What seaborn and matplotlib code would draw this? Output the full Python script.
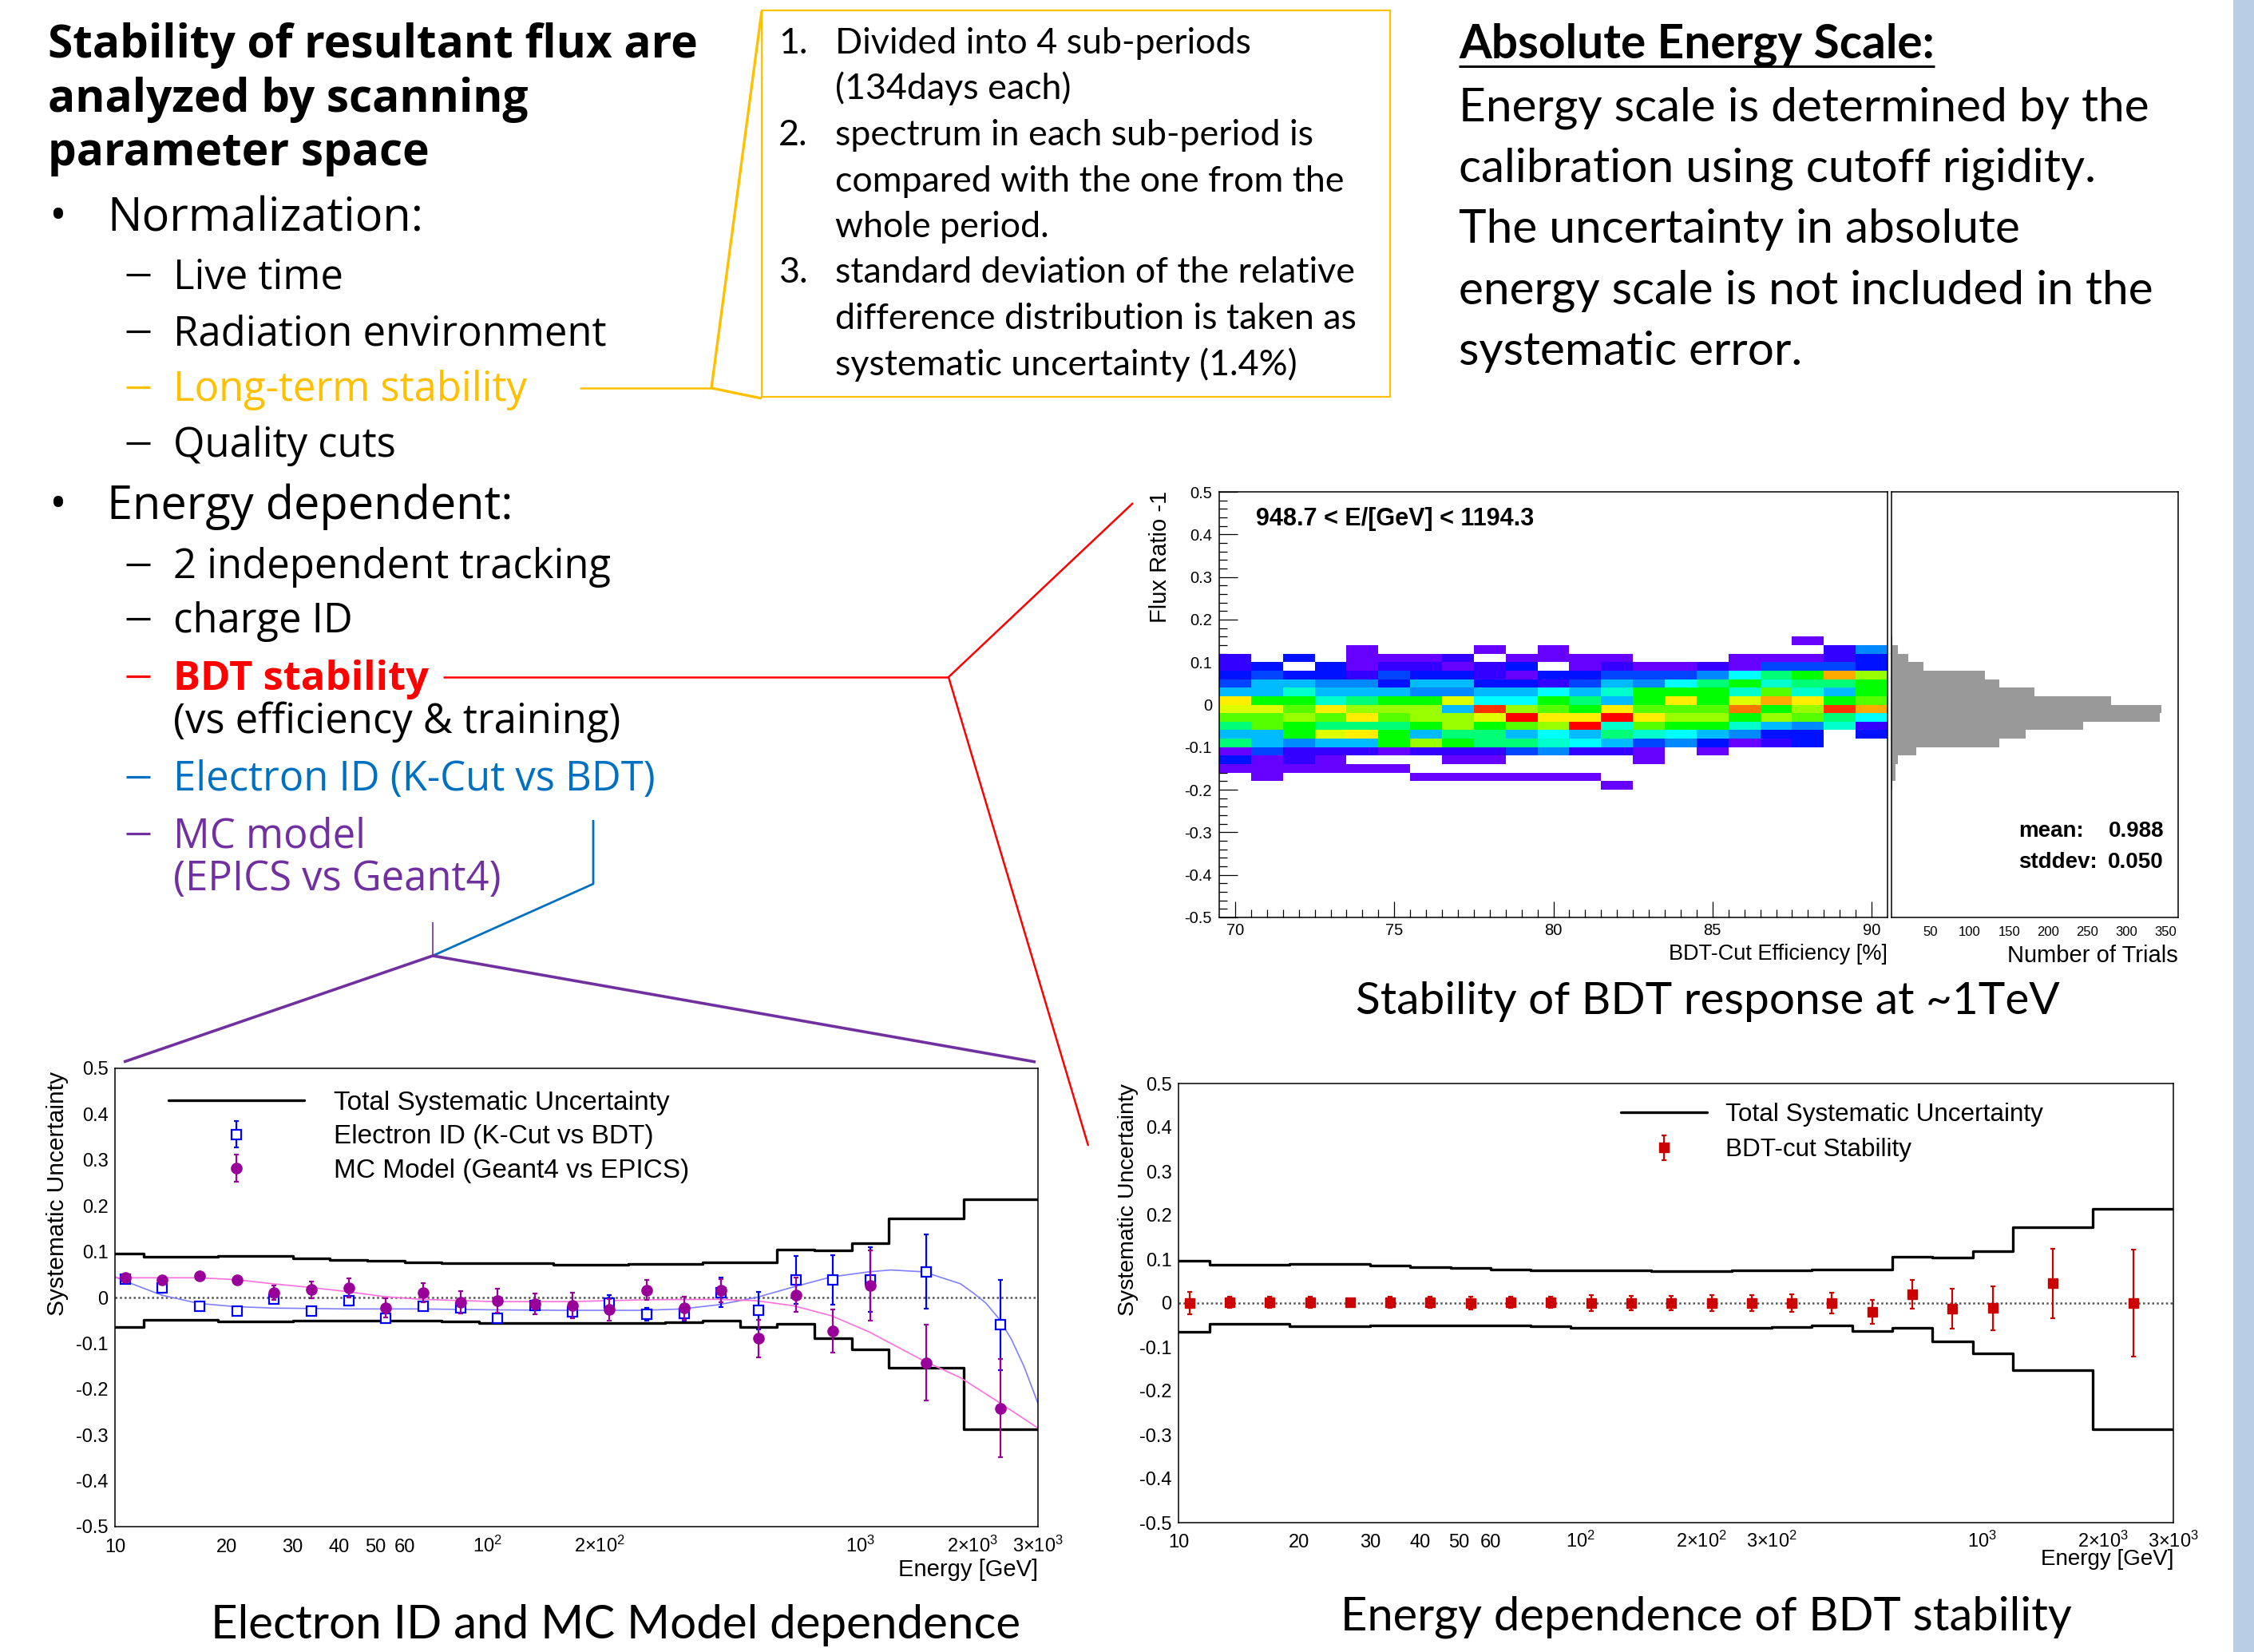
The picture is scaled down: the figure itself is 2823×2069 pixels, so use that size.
import numpy as np
import pandas as pd
import matplotlib.pyplot as plt
import seaborn as sns
from matplotlib.colors import ListedColormap
from matplotlib.lines import Line2D
from matplotlib.patches import Rectangle

W, H = 2823, 2069
PT = 72 / 100  # points per pixel at dpi 100

# ---------------- data ----------------
# energy binning shared by both bottom plots [GeV]
bin_edges = [9.487, 11.94, 15.04, 18.93, 23.83, 30.0, 37.77, 47.55, 59.86, 75.36,
             94.87, 119.4, 150.4, 189.3, 238.3, 300.0, 377.7, 475.5, 598.6, 753.6,
             948.7, 1194.3, 1893.0, 3000.0]
energy = [10.64, 13.40, 16.87, 21.24, 26.74, 33.66, 42.38, 53.35, 67.16, 84.55,
          106.4, 134.0, 168.7, 212.4, 267.4, 336.6, 423.8, 533.5, 671.6, 845.5,
          1064.0, 1503.0, 2383.0]
sys_upper = [0.096, 0.088, 0.088, 0.090, 0.090, 0.085, 0.082, 0.080, 0.077, 0.075,
             0.075, 0.075, 0.072, 0.072, 0.074, 0.074, 0.076, 0.076, 0.105, 0.103,
             0.118, 0.172, 0.215]
sys_lower = [-0.065, -0.048, -0.048, -0.053, -0.053, -0.051, -0.051, -0.051, -0.051, -0.053,
             -0.056, -0.056, -0.056, -0.056, -0.056, -0.054, -0.051, -0.064, -0.057, -0.088,
             -0.114, -0.153, -0.287]

# Electron ID (K-Cut vs BDT)
eid_val = [0.040, 0.021, -0.020, -0.030, -0.004, -0.030, -0.007, -0.045, -0.020, -0.023,
           -0.045, -0.018, -0.032, -0.013, -0.036, -0.034, 0.011, -0.028, 0.038, 0.038,
           0.039, 0.056, -0.060]
eid_err = [0.008, 0.010, 0.006, 0.006, 0.008, 0.008, 0.010, 0.008, 0.008, 0.010,
           0.010, 0.010, 0.012, 0.018, 0.014, 0.016, 0.032, 0.041, 0.052, 0.054,
           0.070, 0.081, 0.099]
eid_fit_E = [10.0, 11.34, 13.37, 16.79, 21.09, 26.45, 41.9, 66.2, 105.0, 166.0, 263.0, 332.0,
             415.0, 526.0, 662.0, 838.0, 1056.0, 1208.0, 1479.0, 1858.0, 2010.0, 2173.0,
             2350.0, 2541.0, 2751.0, 3000.0]
eid_fit_val = [0.045, 0.027, 0.005, -0.013, -0.020, -0.023, -0.025, -0.025, -0.027, -0.028,
               -0.028, -0.025, -0.016, 0.000, 0.023, 0.045, 0.056, 0.060, 0.056, 0.030,
               0.010, -0.012, -0.045, -0.090, -0.150, -0.231]

# MC Model (Geant4 vs EPICS)
mc_val = [0.043, 0.038, 0.047, 0.038, 0.011, 0.017, 0.021, -0.023, 0.011, -0.010,
          -0.007, -0.014, -0.018, -0.027, 0.016, -0.023, 0.015, -0.089, 0.006, -0.074,
          0.026, -0.142, -0.242]
mc_err = [0.008, 0.008, 0.008, 0.008, 0.016, 0.018, 0.021, 0.021, 0.021, 0.024,
          0.026, 0.022, 0.028, 0.024, 0.022, 0.025, 0.025, 0.041, 0.038, 0.047,
          0.076, 0.082, 0.107]
mc_fit_E = [10.0, 16.79, 21.09, 26.45, 33.3, 41.9, 52.7, 66.2, 105.0, 166.0,
            263.0, 415.0, 526.0, 662.0, 838.0, 1056.0, 1479.0, 1858.0, 2350.0, 3000.0]
mc_fit_val = [0.043, 0.043, 0.039, 0.030, 0.022, 0.013, 0.002, -0.004, -0.009, -0.009,
              -0.005, -0.004, -0.007, -0.018, -0.040, -0.075, -0.138, -0.175, -0.228, -0.285]

# BDT-cut stability
bdt_val = [0.000, 0.002, 0.002, 0.002, 0.002, 0.002, 0.002, 0.000, 0.002, 0.002,
           0.000, 0.000, 0.000, 0.000, 0.000, 0.000, 0.000, -0.020, 0.020, -0.013,
           -0.011, 0.045, 0.000]
bdt_err = [0.025, 0.012, 0.012, 0.012, 0.004, 0.012, 0.012, 0.015, 0.012, 0.012,
           0.019, 0.016, 0.016, 0.018, 0.018, 0.020, 0.024, 0.027, 0.032, 0.045,
           0.050, 0.079, 0.121]

# BDT scan at ~1 TeV: colour level per (flux-ratio row, efficiency column), 0 = empty
eff_bins = list(range(70, 91))
ratio_rows = [0.16, 0.14, 0.12, 0.10, 0.08, 0.06, 0.04, 0.02, 0.00, -0.02,
              -0.04, -0.06, -0.08, -0.10, -0.12, -0.14, -0.16, -0.18]
cell_level = [
    [0, 0, 0, 0, 0, 0, 0, 0, 0, 0, 0, 0, 0, 0, 0, 0, 0, 0, 1, 0, 0],
    [0, 0, 0, 0, 1, 0, 0, 0, 1, 0, 1, 0, 0, 0, 0, 0, 0, 0, 0, 2, 5],
    [2, 0, 3, 0, 1, 1, 1, 2, 0, 1, 1, 1, 1, 0, 0, 0, 1, 1, 1, 2, 3],
    [2, 3, 0, 3, 1, 2, 2, 1, 2, 3, 0, 1, 2, 1, 1, 2, 1, 4, 4, 4, 3],
    [3, 4, 3, 3, 2, 4, 3, 3, 2, 1, 3, 3, 4, 4, 4, 5, 7, 9, 10, 15, 12],
    [4, 6, 6, 5, 5, 3, 6, 6, 3, 3, 2, 4, 6, 5, 7, 9, 10, 8, 9, 9, 10],
    [6, 6, 8, 6, 6, 6, 5, 5, 6, 6, 7, 6, 8, 10, 10, 10, 8, 11, 8, 6, 10],
    [14, 10, 10, 8, 9, 10, 10, 13, 7, 7, 10, 9, 6, 10, 14, 10, 13, 15, 14, 10, 11],
    [13, 13, 11, 14, 12, 12, 12, 6, 17, 12, 11, 10, 14, 11, 11, 11, 16, 10, 12, 17, 15],
    [11, 11, 12, 11, 14, 11, 12, 12, 13, 18, 14, 14, 18, 14, 12, 12, 10, 12, 11, 9, 7],
    [9, 11, 10, 9, 9, 9, 10, 12, 10, 11, 12, 18, 8, 11, 10, 10, 8, 6, 5, 8, 2],
    [6, 6, 10, 13, 14, 10, 6, 9, 9, 6, 7, 6, 9, 8, 7, 6, 5, 3, 3, 0, 3],
    [9, 6, 5, 6, 6, 10, 12, 10, 9, 9, 8, 7, 6, 4, 5, 3, 1, 2, 3, 0, 0],
    [1, 4, 2, 2, 2, 1, 2, 2, 2, 4, 5, 2, 2, 1, 0, 1, 0, 0, 0, 0, 0],
    [3, 1, 2, 1, 0, 0, 0, 1, 1, 0, 0, 0, 0, 1, 0, 0, 0, 0, 0, 0, 0],
    [1, 1, 1, 1, 1, 1, 0, 0, 0, 0, 0, 0, 0, 0, 0, 0, 0, 0, 0, 0, 0],
    [0, 1, 0, 0, 0, 0, 1, 1, 1, 1, 1, 1, 0, 0, 0, 0, 0, 0, 0, 0, 0],
    [0, 0, 0, 0, 0, 0, 0, 0, 0, 0, 0, 0, 1, 0, 0, 0, 0, 0, 0, 0, 0],
]
palette = ['#6600ff', '#3300ff', '#0011ff', '#0044ff', '#0088ff', '#00bbff', '#00ffff',
           '#00ffcc', '#00ff77', '#00ff00', '#55ff00', '#99ff00', '#ddff00', '#ffee00',
           '#ffaa00', '#ff7700', '#ff3300', '#ff0000']

# projection: number of trials per flux-ratio bin
trial_ratio = [0.15, 0.13, 0.11, 0.09, 0.07, 0.05, 0.03, 0.01, -0.01, -0.03,
               -0.05, -0.07, -0.09, -0.11, -0.13, -0.15, -0.17, -0.19]
trial_count = [1, 8, 21, 41, 119, 138, 182, 280, 345, 343,
               245, 171, 138, 32, 8, 5, 5, 1]

# ---------------- style ----------------
sns.set_style('white')
plt.rcParams['font.family'] = ['Liberation Sans', 'DejaVu Sans']
plt.rcParams['mathtext.fontset'] = 'custom'
plt.rcParams['mathtext.rm'] = 'Liberation Sans'
plt.rcParams['mathtext.it'] = 'Liberation Sans:italic'
for k in ['text.color', 'axes.labelcolor', 'xtick.color', 'ytick.color', 'axes.edgecolor']:
    plt.rcParams[k] = 'black'
plt.rcParams['axes.linewidth'] = 1.1

fig = plt.figure(figsize=(W / 100, H / 100), dpi=100)
fig.patch.set_facecolor('white')
renderer = fig.canvas.get_renderer()


def box(l, t, r, b):
    return [l / W, 1 - b / H, (r - l) / W, (b - t) / H]


def put(x, y, s, **kw):
    return fig.text(x / W, 1 - y / H, s, **kw)


def seg(pts, color, lw):
    xs = [p[0] / W for p in pts]
    ys = [1 - p[1] / H for p in pts]
    fig.add_artist(Line2D(xs, ys, color=color, lw=lw, solid_capstyle='butt'))


def fit_text(texts, ref, width_px):
    w = ref.get_window_extent(renderer).width
    size = ref.get_fontsize() * width_px / w
    for t in texts:
        t.set_fontsize(size)


ylab_major = np.round(np.linspace(-0.5, 0.5, 11), 2)
ylab_text = ['0' if v == 0 else f'{v:.1f}' for v in ylab_major]
ylab_minor = np.round(np.linspace(-0.5, 0.5, 51), 2)


def energy_axes(rect, extra_labels, lab_pad):
    ax = fig.add_axes(box(*rect))
    ax.set_xscale('log')
    sns.lineplot(x=bin_edges, y=sys_upper + sys_upper[-1:], drawstyle='steps-post',
                 color='black', lw=2.4, errorbar=None, ax=ax)
    sns.lineplot(x=bin_edges, y=sys_lower + sys_lower[-1:], drawstyle='steps-post',
                 color='black', lw=2.4, errorbar=None, ax=ax)
    ax.axhline(0, color='#555555', lw=1.8, ls=(0, (1, 1.3)), zorder=1)
    ax.set_xlim(10, 3000)
    ax.set_ylim(-0.5, 0.5)
    ax.set_xlabel('')
    ax.set_ylabel('')
    ax.set_xticks([10, 100, 1000], labels=['10', r'$10^{2}$', r'$10^{3}$'])
    minors = [20, 30, 40, 50, 60, 70, 80, 90, 200, 300, 400, 500, 600, 700, 800, 900, 2000, 3000]
    names = {20: '20', 30: '30', 40: '40', 50: '50', 60: '60',
             200: r'$2{\times}10^{2}$', 2000: r'$2{\times}10^{3}$', 3000: r'$3{\times}10^{3}$'}
    names.update(extra_labels)
    ax.set_xticks(minors, labels=[names.get(m, '') for m in minors], minor=True)
    ax.set_yticks(ylab_major, labels=ylab_text)
    ax.set_yticks(ylab_minor, minor=True)
    ax.tick_params(axis='x', which='major', direction='in', length=20 * PT, width=0.9,
                   pad=lab_pad, labelsize=17)
    ax.tick_params(axis='x', which='minor', direction='in', length=11 * PT, width=0.9,
                   pad=lab_pad, labelsize=17)
    ax.tick_params(axis='y', which='major', direction='in', length=19 * PT, width=0.9,
                   pad=6, labelsize=17)
    ax.tick_params(axis='y', which='minor', direction='in', length=9 * PT, width=0.9)
    ax.tick_params(top=False, right=False)
    plt.setp(ax.get_xticklabels() + ax.get_xticklabels(minor=True), va='baseline')
    for s in ax.spines.values():
        s.set_linewidth(1.1)
    return ax


# ---------------- bottom-left: Electron ID and MC model ----------------
ax1 = energy_axes((144, 1338, 1300, 1912), {}, 23)
sns.lineplot(x=eid_fit_E, y=eid_fit_val, color='#8080ff', lw=1.2, errorbar=None, ax=ax1)
sns.lineplot(x=mc_fit_E, y=mc_fit_val, color='#ff70dd', lw=1.2, errorbar=None, ax=ax1)
eb_eid = ax1.errorbar(energy, eid_val, yerr=eid_err, fmt='s', ms=9, mfc='white', mec='#0000ff',
                      mew=1.6, ecolor='#0000ff', elinewidth=1.6, capsize=2.5, capthick=1.6, zorder=4)
eb_mc = ax1.errorbar(energy, mc_val, yerr=mc_err, fmt='o', ms=9.5, color='#990099',
                     elinewidth=1.6, capsize=2.5, capthick=1.6, zorder=5)
tot_handle = Line2D([], [], color='black', lw=2.4)
ax1.legend([tot_handle, eb_eid, eb_mc],
           ['Total Systematic Uncertainty', 'Electron ID (K-Cut vs BDT)', 'MC Model (Geant4 vs EPICS)'],
           loc='upper left', bbox_to_anchor=(0.058, 0.951), frameon=False, fontsize=24,
           handlelength=5.1, handletextpad=1.1, labelspacing=0.34, borderpad=0, borderaxespad=0)
put(72, 1495, 'Systematic Uncertainty', rotation=90, ha='center', va='center', size=21.5)
put(1300, 1966, 'Energy [GeV]', ha='right', va='center', size=21)

# ---------------- bottom-right: BDT stability vs energy ----------------
ax2 = energy_axes((1476, 1357, 2722, 1907), {300: r'$3{\times}10^{2}$'}, 22)
eb_bdt = ax2.errorbar(energy, bdt_val, yerr=bdt_err, fmt='s', ms=8, color='#cc0000',
                      elinewidth=1.6, capsize=2.5, capthick=1.6, zorder=5)
ax2.legend([tot_handle, eb_bdt], ['Total Systematic Uncertainty', 'BDT-cut Stability'],
           loc='upper left', bbox_to_anchor=(0.445, 0.956), frameon=False, fontsize=22.7,
           handlelength=3.4, handletextpad=0.73, labelspacing=0.45, borderpad=0, borderaxespad=0)
put(1413, 1503, 'Systematic Uncertainty', rotation=90, ha='center', va='center', size=20.5)
put(2722, 1953, 'Energy [GeV]', ha='right', va='center', size=20)

# ---------------- top-right: BDT scan map ----------------
grid = np.full((50, len(eff_bins)), np.nan)
for top, levels in zip(ratio_rows, cell_level):
    i = int(round((0.5 - top) / 0.02))
    grid[i] = [v if v > 0 else np.nan for v in levels]
scan = pd.DataFrame(grid, columns=eff_bins)

axm = fig.add_axes(box(1527, 616, 2364, 1149))
sns.heatmap(scan, cmap=ListedColormap(palette), vmin=0.5, vmax=len(palette) + 0.5,
            cbar=False, xticklabels=False, yticklabels=False, ax=axm)
for s in axm.spines.values():
    s.set_visible(True)
    s.set_linewidth(1.1)
axm.set_xlabel('')
axm.set_ylabel('')
axm.set_xticks([v - 69.5 for v in [70, 75, 80, 85, 90]], labels=['70', '75', '80', '85', '90'])
axm.set_xticks(np.arange(0.5, 21, 0.5), minor=True)
axm.set_yticks((0.5 - ylab_major) / 0.02, labels=ylab_text)
axm.set_yticks((0.5 - ylab_minor) / 0.02, minor=True)
axm.tick_params(axis='x', which='major', direction='in', length=20 * PT, width=0.9,
                pad=16, labelsize=14.5, bottom=True)
axm.tick_params(axis='x', which='minor', direction='in', length=10 * PT, width=0.9, bottom=True)
axm.tick_params(axis='y', which='major', direction='in', length=23 * PT, width=0.9,
                pad=6.5, labelsize=14.5, left=True)
axm.tick_params(axis='y', which='minor', direction='in', length=10 * PT, width=0.9, left=True)
axm.tick_params(top=False, right=False, labelrotation=0)
plt.setp(axm.get_xticklabels(), va='baseline')

axh = fig.add_axes(box(2369, 616, 2728, 1149))
sns.histplot(y=trial_ratio, weights=trial_count, binwidth=0.02, binrange=(-0.2, 0.16),
             color='#999999', alpha=1, edgecolor='none', linewidth=0, ax=axh)
axh.set_xlim(0, 366)
axh.set_ylim(-0.5, 0.5)
axh.set_xlabel('')
axh.set_ylabel('')
axh.set_xticks([50, 100, 150, 200, 250, 300, 350],
               labels=['50', '100', '150', '200', '250', '300', '350'])
axh.set_xticks(np.arange(10, 366, 10), minor=True)
axh.set_yticks(ylab_major, labels=[''] * len(ylab_major))
axh.set_yticks(ylab_minor, minor=True)
axh.tick_params(axis='x', which='major', direction='in', length=16 * PT, width=0.9,
                pad=16.5, labelsize=12)
axh.tick_params(axis='x', which='minor', direction='in', length=8 * PT, width=0.9)
axh.tick_params(axis='y', which='major', direction='in', length=16 * PT, width=0.9)
axh.tick_params(axis='y', which='minor', direction='in', length=8 * PT, width=0.9)
axh.tick_params(top=False, right=False)
plt.setp(axh.get_xticklabels(), va='baseline')
for s in axh.spines.values():
    s.set_linewidth(1.1)

put(1453, 697, 'Flux Ratio -1', rotation=90, ha='center', va='center', size=21)
put(1573, 650, '948.7 < E/[GeV] < 1194.3', ha='left', va='center', size=22, weight='bold')
put(2364, 1195, 'BDT-Cut Efficiency [%]', ha='right', va='center', size=19.5)
put(2728, 1197, 'Number of Trials', ha='right', va='center', size=21)
put(2528, 1041, 'mean:', ha='left', va='center', size=20, weight='bold')
put(2710, 1041, '0.988', ha='right', va='center', size=20, weight='bold')
put(2528, 1080, 'stddev:', ha='left', va='center', size=20, weight='bold')
put(2710, 1080, '0.050', ha='right', va='center', size=20, weight='bold')

# ---------------- slide text ----------------
OPEN = 'Open Sans'
LATO = 'Lato'
ORANGE, RED, BLUE, PURPLE = '#FFC000', '#FF0000', '#0070C0', '#7030A0'

title = [put(60, b, s, family=OPEN, weight='bold', size=30, va='baseline')
         for s, b in zip(['Stability of resultant flux are', 'analyzed by scanning', 'parameter space'],
                         [72, 140, 207])]
fit_text(title, title[0], 815)

lvl1 = []
for s, b in [('Normalization:', 289), ('Energy dependent:', 650)]:
    lvl1.append(put(134, b, s, family=OPEN, size=30, va='baseline'))
    lvl1.append(put(72, b, '•', family=OPEN, size=30, va='baseline', ha='center'))
fit_text(lvl1, lvl1[0], 396)

items = [('Live time', 361, 'black', 'normal', True),
         ('Radiation environment', 432, 'black', 'normal', True),
         ('Long-term stability', 502, ORANGE, 'normal', True),
         ('Quality cuts', 572, 'black', 'normal', True),
         ('2 independent tracking', 724, 'black', 'normal', True),
         ('charge ID', 792, 'black', 'normal', True),
         ('BDT stability', 864, RED, 'bold', True),
         ('(vs efficiency & training)', 918, 'black', 'normal', False),
         ('Electron ID (K-Cut vs BDT)', 990, BLUE, 'normal', True),
         ('MC model', 1061, PURPLE, 'normal', True),
         ('(EPICS vs Geant4)', 1115, PURPLE, 'normal', False)]
lvl2 = []
ref2 = None
for s, b, c, wgt, dash in items:
    t = put(217, b, s, family=OPEN, size=26, va='baseline', color=c, weight=wgt)
    lvl2.append(t)
    if s == 'Radiation environment':
        ref2 = t
    if dash:
        seg([(158, b - 17), (188, b - 17)], c, 2.3)
fit_text(lvl2, ref2, 543)

box_lines = [('1.', 'Divided into 4 sub-periods'), ('', '(134days each)'),
             ('2.', 'spectrum in each sub-period is'), ('', 'compared with the one from the'),
             ('', 'whole period.'), ('3.', 'standard deviation of the relative'),
             ('', 'difference distribution is taken as'), ('', 'systematic uncertainty (1.4%)')]
box_txt = []
box_ref = None
for k, (num, s) in enumerate(box_lines):
    b = 67 + 57.5 * k
    t = put(1046, b, s, family=LATO, size=24, va='baseline')
    box_txt.append(t)
    if num:
        box_txt.append(put(975, b, num, family=LATO, size=24, va='baseline'))
    if s.startswith('standard'):
        box_ref = t
fit_text(box_txt, box_ref, 652)

head = put(1827, 73, 'Absolute Energy Scale:', family=LATO, weight='bold', size=34, va='baseline')
fit_text([head], head, 597)
hb = head.get_window_extent(renderer)
seg([(hb.x0, 83), (hb.x1, 83)], 'black', 2.2)
body = [put(1827, 151 + 76.5 * k, s, family=LATO, size=34, va='baseline')
        for k, s in enumerate(['Energy scale is determined by the',
                               'calibration using cutoff rigidity.',
                               'The uncertainty in absolute',
                               'energy scale is not included in the',
                               'systematic error.'])]
fit_text(body, body[0], 868)

for s, x, b, w in [('Stability of BDT response at ~1TeV', 2139, 1270, 882),
                   ('Electron ID and MC Model dependence', 771, 2052, 1017),
                   ('Energy dependence of BDT stability', 2137, 2041, 918)]:
    t = put(x, b, s, family=LATO, size=34, va='baseline', ha='center')
    fit_text([t], t, w)

# ---------------- connectors and decorations ----------------
fig.add_artist(Rectangle((954 / W, 1 - 497 / H), (1741 - 954) / W, (497 - 13) / H,
                         fill=False, edgecolor=ORANGE, lw=1.6))
seg([(726, 486), (891, 486)], ORANGE, 1.8)
seg([(954, 14), (891, 486), (954, 499)], ORANGE, 2.4)
seg([(555, 848), (1188, 848)], RED, 1.8)
seg([(1419, 630), (1188, 848), (1363, 1435)], RED, 1.8)
seg([(743, 1027), (743, 1107), (542, 1197)], BLUE, 2.0)
seg([(542, 1155), (542, 1197)], PURPLE, 1.2)
seg([(155, 1330), (542, 1197), (1297, 1330)], PURPLE, 2.6)
fig.add_artist(Rectangle((2797 / W, 0), (W - 2797) / W, 1, color='#b9cde5', lw=0))

fig.savefig('out.png', dpi=100, facecolor='white')
